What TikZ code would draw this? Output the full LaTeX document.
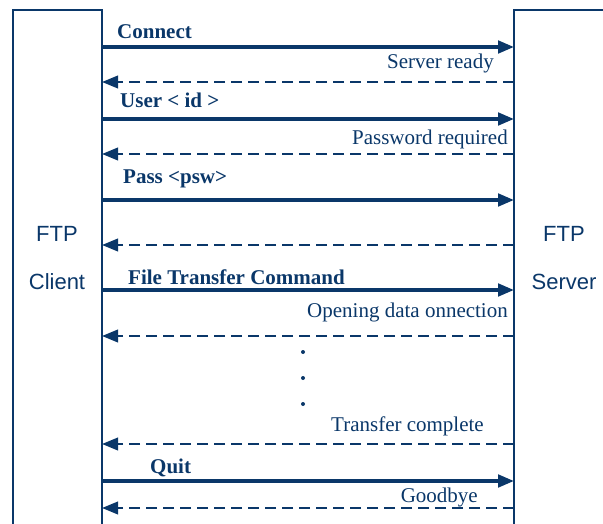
\documentclass[tikz,border=0pt]{standalone}
\usepackage{fontspec}
\setmainfont{Liberation Serif}
\newfontfamily\ftpsans{Liberation Sans}
\usetikzlibrary{arrows.meta}
\definecolor{ftpblue}{RGB}{10,55,105}
\tikzset{
	req/.style={-{Triangle[length=16pt,width=12.5pt]},line width=3.4pt},
	rep/.style={-{Triangle[length=16pt,width=12.5pt]},line width=2.3pt,dash pattern=on 11pt off 6pt},
	cmd/.style={inner sep=0pt,font=\fontsize{21}{25}\selectfont\bfseries},
	ans/.style={inner sep=0pt,font=\fontsize{21}{25}\selectfont},
	ftp/.style={inner sep=0pt,anchor=base,font=\fontsize{22}{26}\selectfont\ftpsans}
}
\begin{document}
\begin{tikzpicture}[x=1pt,y=-1pt,line join=miter,color=ftpblue]
		\def\xc{102} \def\xs{514} % lifelines
		\useasboundingbox (0,0) rectangle (603,524);
		% the two boxes
		\draw[line width=1.8pt] (13,524)--(13,10)--(\xc,10)--(\xc,524);
		\draw[line width=1.8pt] (\xs,524)--(\xs,10)--(603,10);
		\node[ftp] (cftp) at (57,241) {FTP};
		\node[ftp] (ccli) at (57,289) {Client};
		\node[ftp] (sftp) at (564,241) {FTP};
		\node[ftp] (ssrv) at (564,289) {Server};
		% points on the lifelines
		\foreach \n/\y in {1/47,2/82,3/119,4/154,5/200,6/245,7/290,8/336,9/444,10/481,11/508}{
			\coordinate (c\n) at (\xc,\y);
			\coordinate (s\n) at (\xs,\y);
		}
		% messages
		\draw[req] (c1)--(s1);
		\draw[rep] (s2)--(c2);
		\draw[req] (c3)--(s3);
		\draw[rep] (s4)--(c4);
		\draw[req] (c5)--(s5);
		\draw[rep] (s6)--(c6);
		\draw[req] (c7)--(s7);
		\draw[rep] (s8)--(c8);
		\draw[rep] (s9)--(c9);
		\draw[req] (c10)--(s10);
		\draw[rep] (s11)--(c11);
		\node[cmd,anchor=base west] (lconn) at (117,39) {Connect};
		\node[ans,anchor=base east] (lready) at (494,69) {Server ready};
		\node[cmd,anchor=base west] (luser) at (120,108) {User < id >};
		\node[ans,anchor=base east] (lpwreq) at (508,145) {Password required};
		\node[cmd,anchor=base west] (lpass) at (123,184) {Pass <psw>};
		\node[cmd,anchor=base west] (lfile) at (128,284) {File Transfer Command};
		\node[ans,anchor=base east] (lopen) at (508,317) {Opening data onnection};
		\node[ans,anchor=base east] (ldone) at (484,431) {Transfer complete};
		\node[cmd,anchor=base west] (lquit) at (150,473) {Quit};
		\node[ans,anchor=base east] (lbye) at (478,502) {Goodbye};
		\foreach \y in {352,378,404} \fill (303,\y) circle (2pt);
\end{tikzpicture}
\end{document}
